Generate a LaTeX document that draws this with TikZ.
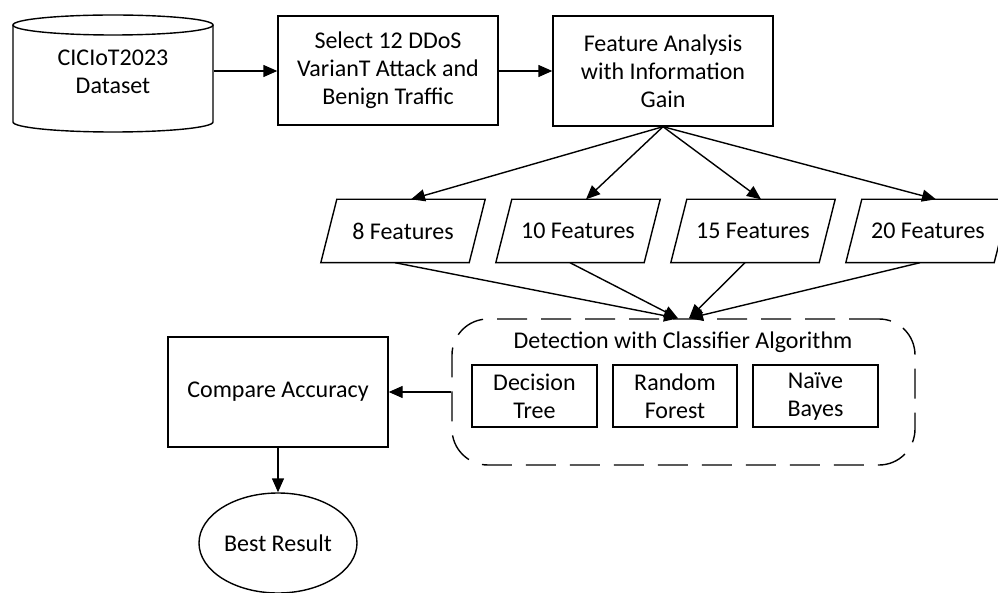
\documentclass[tikz,border=0pt]{standalone}
\usepackage{fontspec}
\setmainfont{Carlito}
\usetikzlibrary{arrows.meta,shapes.geometric}

\tikzset{
  base/.style={font=\fontsize{24}{28}\selectfont, align=center, inner sep=0pt, line width=1.4pt},
  procbox/.style={base, draw, rectangle},
  ghost/.style={base, rectangle},
  arr/.style={line width=1.4pt, -{Triangle[length=14pt,width=12pt]}},
  plainline/.style={line width=1.4pt},
}

\begin{document}
\begin{tikzpicture}[x=1pt,y=-1pt]
\useasboundingbox (0,0) rectangle (998,593);

% dataset cylinder (invisible anchor node + drawn outline)
\node[ghost, minimum width=200pt, minimum height=120pt] (ds) at (113,72) {CICIoT2023\\Dataset};
\draw[line width=1.4pt] (113,25) ellipse [x radius=100pt, y radius=10pt];
\draw[line width=1.4pt] (13,25) -- (13,122) arc [start angle=180, end angle=360, x radius=100pt, y radius=10pt] -- (213,25);

% top row
\node[procbox, minimum width=220pt, minimum height=109pt] (sel) at (388,70.5) {Select 12 DDoS\\VarianT Attack and\\Benign Traffic};
\node[procbox, minimum width=220pt, minimum height=110pt] (fa) at (663,71) {Feature Analysis\\with Information\\Gain};

\draw[arr] (ds.east |- 0,71) -- (sel.west |- 0,71);
\draw[arr] (sel.east |- 0,71) -- (fa.west |- 0,71);

% feature subsets (parallelograms)
\foreach \nm/\cx/\txt in {f8/403/8 Features, f10/578/10 Features, f15/753/15 Features, f20/928/20 Features}{
  \node[ghost, minimum width=147pt, minimum height=62pt] (\nm) at (\cx,231) {\txt};
  \draw[line width=1.4pt] ([xshift=-8pt]\nm.south west) -- ([xshift=-8pt]\nm.south east)
        -- ([xshift=8pt]\nm.north east) -- ([xshift=8pt]\nm.north west) -- cycle;
  \draw[arr] (fa.south) -- ([xshift=8pt]\nm.north);
}

% classifier group
\node[base, draw, dash pattern=on 30pt off 14pt, rounded corners=36pt,
      minimum width=463pt, minimum height=146pt] (det) at (683.5,392) {};
\node[base] (dtitle) at (683,342) {Detection with Classifier Algorithm};
\node[procbox, minimum width=125pt, minimum height=62pt] (dt) at (534.5,396) {Decision\\Tree};
\node[procbox, minimum width=124pt, minimum height=62pt] (rf) at (675,396) {Random\\Forest};
\node[procbox, minimum width=125pt, minimum height=62pt] (nb) at (815.5,396) {Naïve\\Bayes};

\coordinate (inL) at ([xshift=-5.5pt]det.north);
\coordinate (inR) at ([xshift=5.5pt]det.north);
\draw[arr] ([xshift=-8pt]f8.south) -- (inL);
\draw[arr] ([xshift=-8pt]f10.south) -- (inL);
\draw[arr] ([xshift=-8pt]f15.south) -- (inR);
\draw[arr] ([xshift=-8pt]f20.south) -- (inR);

% comparison and result
\node[procbox, minimum width=220pt, minimum height=110pt] (cmp) at (278,392) {Compare Accuracy};
\node[base, draw, ellipse, minimum width=158pt, minimum height=100pt] (best) at (278,543) {Best Result};

\draw[arr] (det.west) -- (cmp.east);
\draw[arr] (cmp.south) -- (best.north);
\end{tikzpicture}
\end{document}
